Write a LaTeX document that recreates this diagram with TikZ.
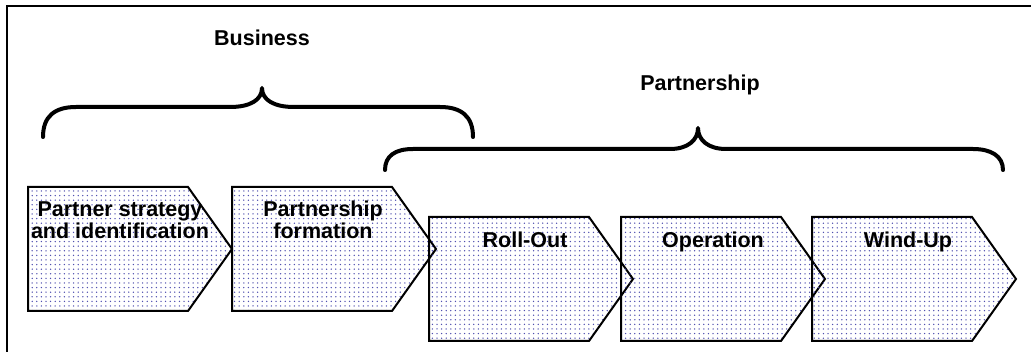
\documentclass[tikz,border=0pt]{standalone}
\usepackage{fontspec}
\setmainfont{Liberation Sans}
\usetikzlibrary{patterns.meta}
\definecolor{dotc}{RGB}{80,80,175}
\tikzset{
  chev/.style={draw=black, line width=2pt, line join=miter,
    pattern={Dots[distance=4.6pt, radius=0.75pt]}, pattern color=dotc},
  bracepath/.style={draw=black, line width=4pt, line cap=round, line join=round},
  lbl/.style={font=\bfseries\fontsize{21.5pt}{22pt}\selectfont, align=center, inner sep=0pt, anchor=base},
  framepath/.style={draw=black, line width=2pt},
}
\begin{document}
\begin{tikzpicture}[x=1pt,y=-1pt]
\useasboundingbox (0,0) rectangle (1031,352);
\clip (0,0) rectangle (1031,352);
\draw[framepath] (7,400) -- (7,6) -- (1100,6);
% chevrons
\foreach \l/\t in {28/187,232/187,429/217,621/217,812/217}
  \draw[chev] (\l,\t) -- ++(160,0) -- ++(44,62) -- ++(-44,62) -- ++(-160,0) -- cycle;
% braces
\draw[bracepath] (43,137) .. controls (43,116) and (55,107) .. (76,107) -- (230,107)
  .. controls (250,107) and (262,100) .. (262,88)
  .. controls (262,100) and (274,107) .. (294,107) -- (440,107)
  .. controls (461,107) and (473,116) .. (473,137);
\draw[bracepath] (385,170) .. controls (385,156) and (395,149) .. (413,149) -- (670,149)
  .. controls (688,149) and (698,140) .. (698,128)
  .. controls (698,140) and (708,149) .. (726,149) -- (973,149)
  .. controls (991,149) and (1003,156) .. (1003,170);
% labels
\node[lbl] (business) at (262,46) {Business};
\node[lbl] (partnership) at (700,91) {Partnership};
\node[lbl] (s1) at (120,239) {Partner strategy\\and identification};
\node[lbl] (s2) at (323,239) {Partnership\\formation};
\node[lbl] (s3) at (525,248) {Roll-Out};
\node[lbl] (s4) at (713,248) {Operation};
\node[lbl] (s5) at (908,248) {Wind-Up};
\end{tikzpicture}
\end{document}
